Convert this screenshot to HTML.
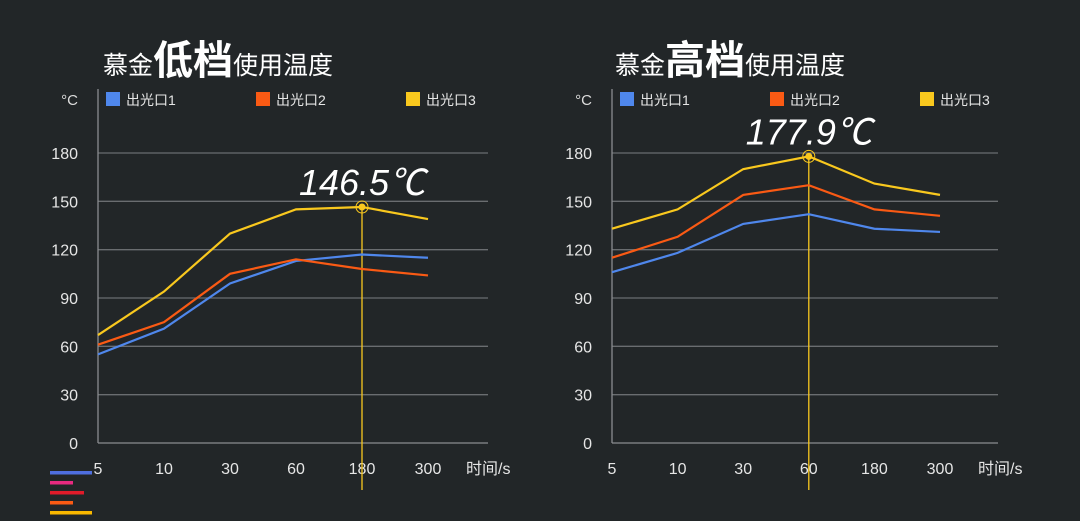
<!DOCTYPE html>
<html><head><meta charset="utf-8">
<style>
body{margin:0;width:1080px;height:521px;background:#222628;overflow:hidden;font-family:"Liberation Sans","Noto Sans CJK SC",sans-serif;}
svg{position:absolute;left:0;top:0}
</style></head>
<body>
<svg id="s" width="1080" height="521"></svg>
<script>
const categories=["5","10","30","60","180","300"];
const yTicks=[0,30,60,90,120,150,180];
const seriesNames=["出光口1","出光口2","出光口3"];
const colors=["#4f87ec","#fa5a14","#f9c81e"];
const lowBlue=[55,71,99,113,117,115];
const lowOrange=[61,75,105,114,108,104];
const lowYellow=[67,94,130,145,146.5,139];
const highBlue=[106,118,136,142,133,131];
const highOrange=[115,128,154,160,145,141];
const highYellow=[133,145,170,177.9,161,154];
const lowPeakIndex=4, highPeakIndex=3;

const NS="http://www.w3.org/2000/svg";
const svg=document.getElementById('s');
function mk(tag,attrs,parent){const e=document.createElementNS(NS,tag);for(const k in attrs)e.setAttribute(k,attrs[k]);(parent||svg).appendChild(e);return e;}

function chart(ox,x0,gridEnd,step,series,peakIdx,name,gear){
  const g=mk('g',{});
  
  
  const y=v=>443-v*(290/180);
  const x=i=>x0+i*step;
  const t=mk('text',{x:ox,y:74,fill:'#fff','font-size':25},g);
  
  
  t.innerHTML='慕金<tspan font-size="40" font-weight="bold">'+gear+'</tspan>使用温度';
  const u=mk('text',{x:x0-20,y:105,fill:'#ddd','font-size':15,'text-anchor':'end'},g);u.textContent='°C';
  
  
  yTicks.forEach(v=>{
    const l=mk('line',{x1:x0,x2:gridEnd,y1:y(v),y2:y(v),stroke:v?'#6a6d70':'#8a8d90','stroke-width':1.3},g);
    
    
    const tt=mk('text',{x:x0-20,y:y(v)+6,fill:'#e6e6e6','font-size':16,'text-anchor':'end'},g);tt.textContent=v;
    
    
  });
  const ax=mk('line',{x1:x0,x2:x0,y1:89,y2:443,stroke:'#8a8d90','stroke-width':1.3},g);
  
  
  categories.forEach((c,i)=>{
    const tt=mk('text',{x:x(i),y:474,fill:'#e6e6e6','font-size':16,'text-anchor':'middle'},g);tt.textContent=c;
    
    
  });
  const xt=mk('text',{x:x(5)+38,y:474,fill:'#e6e6e6','font-size':16},g);xt.textContent='时间/s';
  
  
  seriesNames.forEach((n,i)=>{
    const lx=x0+8+i*150;
    const r=mk('rect',{x:lx,y:92,width:14,height:14,fill:colors[i]},g);
    
    
    const tt=mk('text',{x:lx+20,y:105,fill:'#e6e6e6','font-size':14},g);tt.textContent=n;
    
    
  });
  const pv=series[2][peakIdx];
  const pl=mk('line',{x1:x(peakIdx),x2:x(peakIdx),y1:y(pv),y2:490,stroke:'#f9c81e','stroke-width':1.3},g);
  
  
  series.forEach((s,k)=>{
    const p=mk('polyline',{points:s.map((v,i)=>x(i)+','+y(v)).join(' '),fill:'none',stroke:colors[k],'stroke-width':2.2},g);
    
    
  });
  const c1=mk('circle',{cx:x(peakIdx),cy:y(pv),r:6,fill:'none',stroke:'#f9c81e','stroke-width':1},g);
  
  
  const c2=mk('circle',{cx:x(peakIdx),cy:y(pv),r:3.5,fill:'#f9c81e'},g);
  
  
  const lab=mk('text',{x:x(peakIdx),y:y(pv)-12,fill:'#fff','font-size':36,'text-anchor':'middle','font-style':'italic'},g);
  lab.textContent=pv.toFixed(1)+'℃';
  
  
}
chart(103,98,488,66,[lowBlue,lowOrange,lowYellow],lowPeakIndex,'low-gear-chart','低档');
chart(615,612,998,65.6,[highBlue,highOrange,highYellow],highPeakIndex,'high-gear-chart','高档');
[['#4f6fe0',50,92],['#e82a80',50,73],['#e01b2a',50,84],['#fa5a14',50,73],['#f9b800',50,92]].forEach((b,i)=>{
  const r=mk('rect',{x:b[1],y:471+i*10,width:b[2]-b[1],height:3.5,fill:b[0]});
  
  
});
</script>
</body></html>
